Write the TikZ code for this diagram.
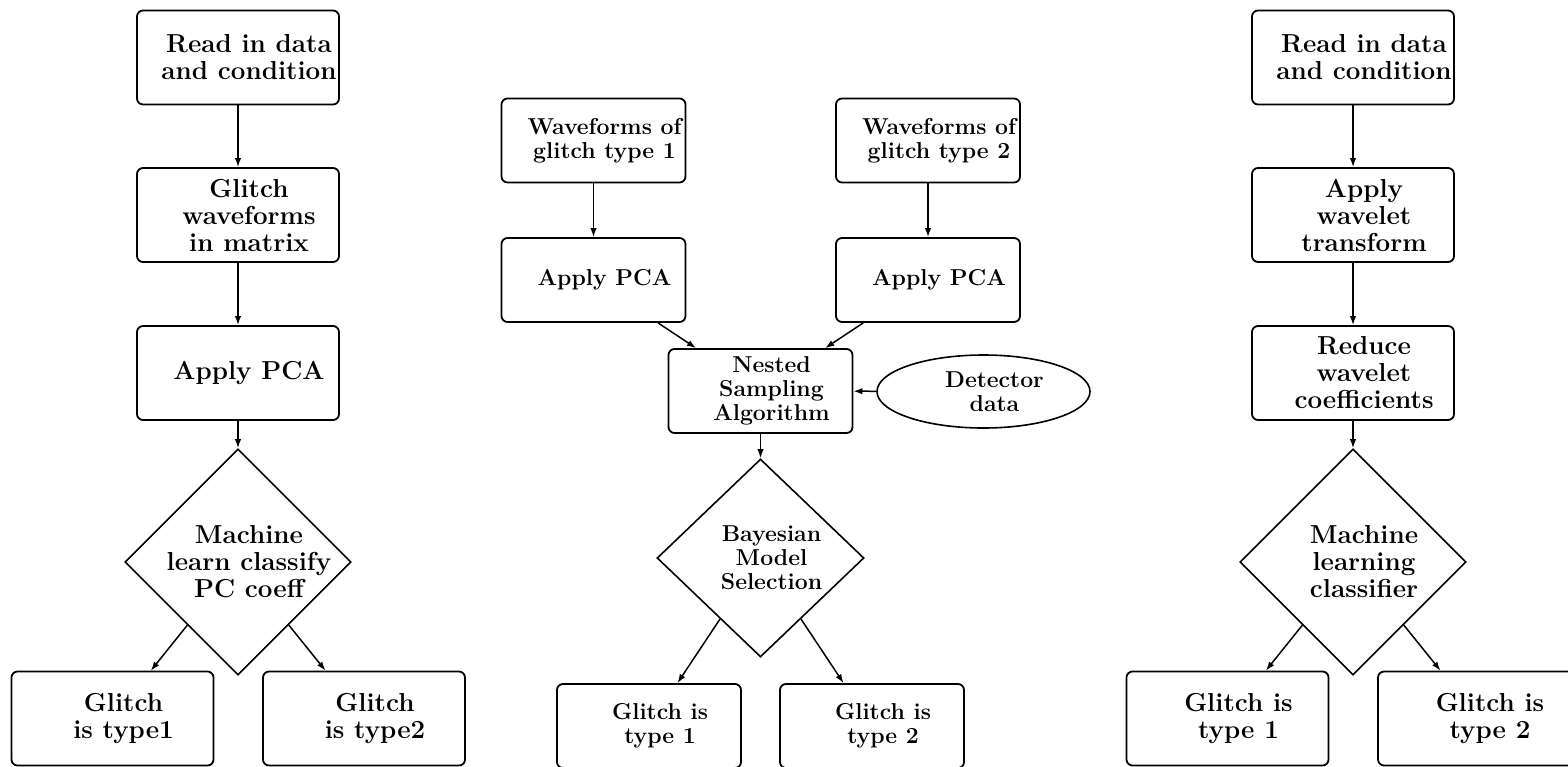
\documentclass[tikz,border=0pt]{standalone}
\usetikzlibrary{shapes.geometric,arrows.meta}
\begin{document}
\begin{tikzpicture}[x=0.5pt,y=-0.5pt,
  bigfont/.style={font=\fontsize{13}{13.5}\selectfont\bfseries},
  smallfont/.style={font=\fontsize{11.5}{12}\selectfont\bfseries},
  lbl/.style={align=center,xshift=5.5pt,inner sep=0pt},
  bigbox/.style={draw,line width=0.9pt,rounded corners=3pt,minimum width=101pt,minimum height=47pt,inner sep=0pt},
  smallbox/.style={draw,line width=0.9pt,rounded corners=3pt,minimum width=92pt,minimum height=42pt,inner sep=0pt},
  bigdia/.style={draw,line width=0.8pt,shape=diamond,minimum width=113pt,minimum height=113pt,inner sep=0pt},
  smalldia/.style={draw,line width=0.8pt,shape=diamond,minimum width=103.5pt,minimum height=99pt,inner sep=0pt},
  oval/.style={draw,line width=0.8pt,shape=ellipse,minimum width=106.5pt,minimum height=36.5pt,inner sep=0pt},
  arr/.style={line width=0.75pt,-{Latex[length=4.5pt,width=3.2pt]}}
]
\useasboundingbox (0,0) rectangle (1568,766);
\clip (0,0) rectangle (1568,766);

% Left column
\node[bigbox,label={[lbl,bigfont]center:{Read in data\\and condition}}] (a1) at (238,57.5) {};
\node[bigbox,label={[lbl,bigfont]center:{Glitch\\waveforms\\in matrix}}] (a2) at (238,215) {};
\node[bigbox,label={[lbl,bigfont]center:{Apply PCA}}] (a3) at (238,373) {};
\node[bigdia,label={[lbl,bigfont]center:{Machine\\learn classify\\PC coeff}}] (d1) at (238,562) {};
\node[bigbox,label={[lbl,bigfont]center:{Glitch\\is type1}}] (a4) at (112.5,718.5) {};
\node[bigbox,label={[lbl,bigfont]center:{Glitch\\is type2}}] (a5) at (364,718.5) {};
\draw[arr] (a1) -- (a2);
\draw[arr] (a2) -- (a3);
\draw[arr] (a3) -- (d1);
\draw[arr] (d1) -- (a4);
\draw[arr] (d1) -- (a5);

% Middle column
\node[smallbox,label={[lbl,smallfont]center:{Waveforms of\\glitch type 1}}] (m1) at (593.5,140.5) {};
\node[smallbox,label={[lbl,smallfont]center:{Waveforms of\\glitch type 2}}] (m2) at (928,140.5) {};
\node[smallbox,label={[lbl,smallfont]center:{Apply PCA}}] (p1) at (593.5,280) {};
\node[smallbox,label={[lbl,smallfont]center:{Apply PCA}}] (p2) at (928,280) {};
\node[smallbox,label={[lbl,smallfont]center:{Nested\\Sampling\\Algorithm}}] (ns) at (760.5,391) {};
\node[oval,label={[lbl,smallfont]center:{Detector\\data}}] (det) at (983.5,391.5) {};
\node[smalldia,label={[lbl,smallfont]center:{Bayesian\\Model\\Selection}}] (d2) at (760.5,558) {};
\node[smallbox,label={[lbl,smallfont]center:{Glitch is\\type 1}}] (g1) at (649,726) {};
\node[smallbox,label={[lbl,smallfont]center:{Glitch is\\type 2}}] (g2) at (872,726) {};
\draw[arr] (m1) -- (p1);
\draw[arr] (m2) -- (p2);
\draw[arr] (p1) -- (ns);
\draw[arr] (p2) -- (ns);
\draw[arr] (det) -- (ns);
\draw[arr] (ns) -- (d2);
\draw[arr] (d2) -- (g1);
\draw[arr] (d2) -- (g2);

% Right column
\node[bigbox,label={[lbl,bigfont]center:{Read in data\\and condition}}] (r1) at (1353,57.5) {};
\node[bigbox,label={[lbl,bigfont]center:{Apply\\wavelet\\transform}}] (r2) at (1353,215) {};
\node[bigbox,label={[lbl,bigfont]center:{Reduce\\wavelet\\coefficients}}] (r3) at (1353,373) {};
\node[bigdia,label={[lbl,bigfont]center:{Machine\\learning\\classifier}}] (d3) at (1353,562) {};
\node[bigbox,label={[lbl,bigfont]center:{Glitch is\\type 1}}] (r4) at (1227.5,718.5) {};
\node[bigbox,label={[lbl,bigfont]center:{Glitch is\\type 2}}] (r5) at (1479,718.5) {};
\draw[arr] (r1) -- (r2);
\draw[arr] (r2) -- (r3);
\draw[arr] (r3) -- (d3);
\draw[arr] (d3) -- (r4);
\draw[arr] (d3) -- (r5);
\end{tikzpicture}
\end{document}
